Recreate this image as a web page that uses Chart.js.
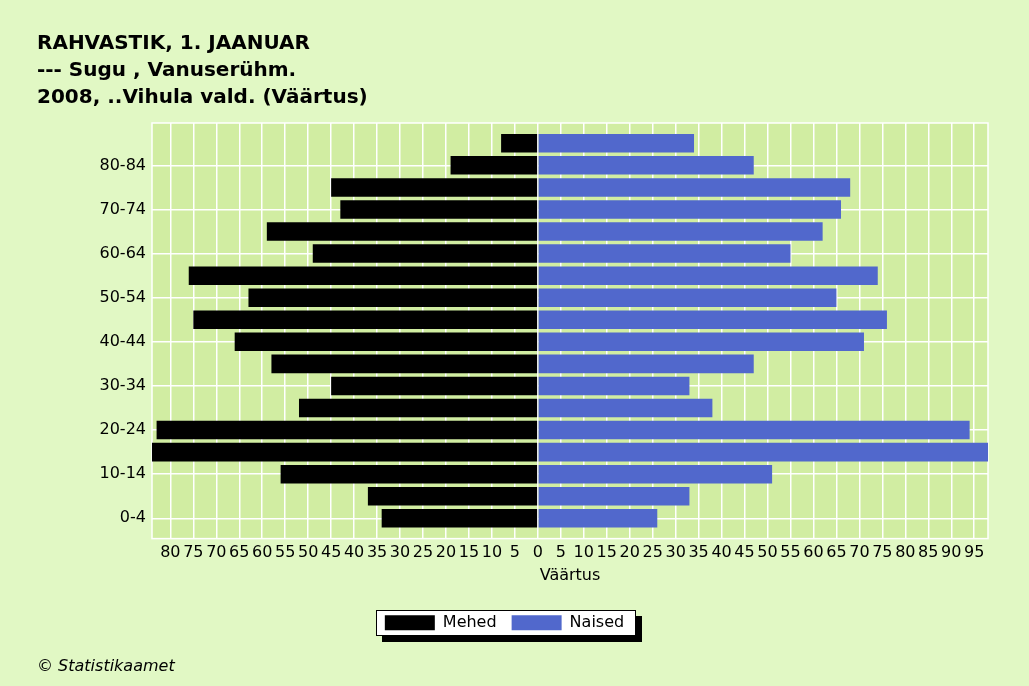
<!DOCTYPE html>
<html lang="et">
<head>
<meta charset="utf-8">
<title>Rahvastik, 1. jaanuar</title>
<script src="https://cdn.jsdelivr.net/npm/chart.js@4"></script>
<style>
    body { margin: 0; background: #e1f8c4; }
    canvas { display: block; }
</style>
</head>
<body>
<canvas id="pyramidChart" width="1029" height="686"></canvas>
<script>
// Age groups, bottom to top
const categories = ['0-4', '5-9', '10-14', '15-19', '20-24', '25-29', '30-34', '35-39', '40-44',
    '45-49', '50-54', '55-59', '60-64', '65-69', '70-74', '75-79', '80-84', '85+'];
const mehed = [34, 37, 56, 84, 83, 52, 45, 58, 66, 75, 63, 76, 49, 59, 43, 45, 19, 8];
const naised = [26, 33, 51, 98, 94, 38, 33, 47, 71, 76, 65, 74, 55, 62, 66, 68, 47, 34];
const titleLines = ['RAHVASTIK, 1. JAANUAR', '--- Sugu , Vanuserühm.', '2008, ..Vihula vald. (Väärtus)'];

document.addEventListener('DOMContentLoaded', () => {
    Chart.defaults.font.family = '"DejaVu Sans", Verdana, sans-serif';
    Chart.defaults.color = '#000';

    // Plot background, white frame and the shadowed legend box
    const backdrop = {
        id: 'backdrop',
        afterLayout(chart) {
            chart.legend.left -= 8;
            chart.legend.right -= 8;
        },
        beforeDraw(chart) {
            const { ctx, chartArea: a } = chart;
            ctx.save();
            ctx.fillStyle = '#d1eda2';
            ctx.fillRect(a.left, a.top, a.width, a.height);
            ctx.strokeStyle = '#fff';
            ctx.lineWidth = 1.5;
            ctx.strokeRect(a.left, a.top, a.width, a.height);

            const boxes = chart.legend.legendHitBoxes;
            const first = boxes[0];
            const last = boxes[boxes.length - 1];
            const x = Math.round(first.left - 9);
            const y = Math.round(first.top - 5);
            const w = Math.round(last.left + last.width + 12) - x;
            const h = first.height + 10;
            ctx.fillStyle = '#000';
            ctx.fillRect(x + 6, y + 6, w, h);
            ctx.fillStyle = '#fff';
            ctx.fillRect(x, y, w, h);
            ctx.lineWidth = 1;
            ctx.strokeStyle = '#000';
            ctx.strokeRect(x + 0.5, y + 0.5, w - 1, h - 1);
            ctx.restore();
        }
    };

    const ctx = document.getElementById('pyramidChart').getContext('2d');
    new Chart(ctx, {
        type: 'bar',
        data: {
            datasets: [
                {
                    label: 'Mehed',
                    data: mehed.map((v, i) => ({ x: -v, y: i })),
                    backgroundColor: '#000000',
                    borderWidth: 0
                },
                {
                    label: 'Naised',
                    data: naised.map((v, i) => ({ x: v, y: i })),
                    backgroundColor: '#5168cc',
                    borderWidth: 0
                }
            ]
        },
        options: {
            indexAxis: 'y',
            responsive: false,
            animation: false,
            barPercentage: 1,
            categoryPercentage: 0.84,
            layout: { padding: { left: 37, right: 41, top: 0, bottom: 0 } },
            scales: {
                x: {
                    type: 'linear',
                    stacked: true,
                    min: -84,
                    max: 98,
                    grid: { color: '#fff', lineWidth: 1.5, drawTicks: false },
                    border: { display: false },
                    ticks: {
                        stepSize: 5,
                        includeBounds: false,
                        autoSkip: false,
                        maxRotation: 0,
                        padding: 6,
                        font: { size: 16, lineHeight: 1 },
                        callback: v => Math.abs(v)
                    },
                    title: {
                        display: true,
                        text: 'Väärtus',
                        font: { size: 16 },
                        padding: { top: 0, bottom: 14 }
                    }
                },
                y: {
                    type: 'linear',
                    stacked: true,
                    offset: false,
                    min: -0.92,
                    max: 17.92,
                    grid: { color: '#fff', lineWidth: 1.5, drawTicks: false, offset: false },
                    border: { display: false },
                    afterFit: scale => { scale.width = 115; },
                    ticks: {
                        stepSize: 2,
                        includeBounds: false,
                        autoSkip: false,
                        padding: 6,
                        font: { size: 16 },
                        callback: v => categories[v]
                    }
                }
            },
            plugins: {
                title: {
                    display: true,
                    align: 'start',
                    text: titleLines,
                    font: { size: 20, weight: 'bold', lineHeight: 1.35 },
                    padding: { top: 30, bottom: 12 }
                },
                subtitle: {
                    display: true,
                    position: 'bottom',
                    align: 'start',
                    text: '© Statistikaamet',
                    font: { size: 16, style: 'italic' },
                    padding: { top: 16, bottom: 10 }
                },
                legend: {
                    position: 'bottom',
                    labels: { boxWidth: 50, boxHeight: 15, padding: 15, font: { size: 16 } }
                },
                tooltip: { enabled: false }
            }
        },
        plugins: [backdrop]
    });
});
</script>
</body>
</html>
